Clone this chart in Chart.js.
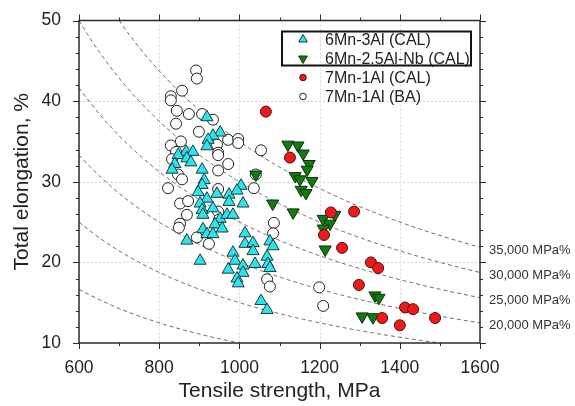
<!DOCTYPE html>
<html>
<head>
<meta charset="utf-8">
<script src="https://cdn.jsdelivr.net/npm/chart.js@4.4.1/dist/chart.umd.min.js"></script>
<style>
  html, body { margin: 0; padding: 0; background: #fff; }
</style>
</head>
<body>
<canvas id="chart" width="575" height="406"></canvas>
<script>
// axis ranges and tick values
const xMin = 600, xMax = 1600, yMin = 10, yMax = 50;
const xTicks = [600, 800, 1000, 1200, 1400, 1600];
const yTicks = [10, 20, 30, 40, 50];

// iso strength-ductility product lines (MPa%)
const isoLevels = [10000, 15000, 20000, 25000, 30000, 35000];
const isoLabelled = [35000, 30000, 25000, 20000];
const isoLabels = ['35,000 MPa%', '30,000 MPa%', '25,000 MPa%', '20,000 MPa%'];

// [tensile strength MPa, total elongation %]
const mn6Al3Cal = [
  [919, 38.0], [952, 36.1], [934, 35.7], [922, 35.2], [919, 34.4], [867, 33.7], [884, 33.7],
  [847, 33.3], [869, 32.9], [879, 32.4], [839, 32.2], [832, 31.5], [907, 31.5], [912, 30.2],
  [907, 29.6], [897, 28.7], [944, 28.5], [974, 28.4], [1004, 29.5], [994, 28.9], [919, 27.9],
  [902, 27.3], [907, 26.5], [909, 25.9], [934, 26.7], [952, 25.4], [939, 24.7], [957, 24.2],
  [909, 24.1], [919, 23.5], [934, 23.5], [869, 22.7], [969, 25.9], [984, 25.9], [1009, 27.3],
  [1014, 23.6], [1014, 22.3], [1034, 22.4], [1034, 21.4], [1039, 19.8], [984, 21.2], [989, 20.2],
  [1009, 19.6], [1009, 18.7], [972, 19.1], [994, 18.0], [997, 17.4], [902, 20.2], [1069, 20.7],
  [1076, 22.6], [1084, 22.0], [1071, 19.8], [1076, 19.3], [1054, 15.2], [1069, 14.1], [974, 27.5]
];
const mn6Al25NbCal = [
  [1121, 34.6], [1146, 34.5], [1159, 33.5], [1174, 32.2], [1169, 31.5], [1139, 30.7], [1151, 30.3],
  [1181, 30.1], [1154, 29.0], [1166, 28.6], [1041, 30.9], [1083, 27.3], [1134, 26.2], [1209, 25.4],
  [1238, 25.9], [1226, 24.8], [1209, 24.2], [1214, 21.6], [1338, 15.9], [1348, 15.6], [1306, 13.3],
  [1333, 13.2]
];
const mn7Al1Cal = [
  [1066, 38.7], [1126, 33.0], [1228, 26.2], [1286, 26.3], [1211, 23.4], [1256, 21.8], [1328, 20.0],
  [1346, 19.3], [1298, 17.2], [1413, 14.4], [1433, 14.2], [1488, 13.1], [1356, 13.1], [1400, 12.2]
];
const mn7Al1Ba = [
  [892, 43.8], [894, 42.8], [857, 41.3], [829, 40.6], [829, 40.1], [844, 38.8], [874, 38.4],
  [907, 38.4], [934, 37.7], [842, 37.2], [899, 36.2], [972, 35.2], [997, 35.3], [997, 34.8],
  [854, 35.0], [829, 34.5], [944, 34.6], [947, 33.6], [947, 33.3], [842, 33.7], [832, 32.8],
  [972, 32.2], [947, 31.4], [1054, 33.9], [1041, 30.9], [847, 30.9], [857, 30.3], [822, 29.2],
  [947, 29.1], [1036, 29.2], [852, 27.3], [872, 27.6], [869, 25.9], [852, 24.8], [849, 24.3],
  [894, 23.1], [924, 22.3], [947, 26.3], [949, 25.3], [1086, 24.9], [1084, 23.6], [1069, 17.9],
  [1076, 17.0], [1199, 16.9], [1209, 14.6]
];

const legendNames = ['6Mn-3Al (CAL)', '6Mn-2.5Al-Nb (CAL)', '7Mn-1Al (CAL)', '7Mn-1Al (BA)'];

const FONT = '"Liberation Sans", Arial, sans-serif';
const toXY = arr => arr.map(([x, y]) => ({ x, y }));

// x*y = const, sampled across the visible range
function isoCurve(c) {
  const pts = [];
  const x0 = Math.max(xMin, c / yMax), x1 = Math.min(xMax, c / yMin);
  for (let x = x0; x < x1; x += 5) pts.push({ x, y: c / x });
  pts.push({ x: x1, y: c / x1 });
  return pts;
}

const styles = [
  { pointStyle: 'triangle', rotation: 0, bg: '#2ee4ea', border: '#1d3b3c' },
  { pointStyle: 'triangle', rotation: 180, bg: '#137a13', border: '#0b330b' },
  { pointStyle: 'circle', rotation: 0, bg: '#ee1a1a', border: '#4a1010' },
  { pointStyle: 'circle', rotation: 0, bg: '#ffffff', border: '#222222' }
];

function scatterSet(label, data, st, order, radius) {
  return {
    type: 'scatter',
    label,
    data: toXY(data),
    order,
    pointStyle: st.pointStyle,
    pointRotation: st.rotation,
    pointRadius: radius,
    pointHoverRadius: radius,
    pointBackgroundColor: st.bg,
    pointBorderColor: st.border,
    pointBorderWidth: 1
  };
}

const curveSets = isoLevels.map(c => ({
  type: 'line',
  label: c + ' MPa%',
  data: isoCurve(c),
  order: 10,
  borderColor: '#6a6a6a',
  borderWidth: 1,
  borderDash: [4, 3],
  pointRadius: 0,
  fill: false,
  tension: 0
}));

// grid, frame, minor ticks, curve labels and legend
const decor = {
  id: 'decor',
  beforeDatasetsDraw(chart) {
    const { ctx, chartArea: a, scales: { x, y } } = chart;
    ctx.save();
    ctx.strokeStyle = '#d6d6d6';
    ctx.lineWidth = 1;
    ctx.setLineDash([2, 2]);
    ctx.beginPath();
    xTicks.slice(1, -1).forEach(v => {
      const px = Math.round(x.getPixelForValue(v)) + 0.5;
      ctx.moveTo(px, a.top); ctx.lineTo(px, a.bottom);
    });
    yTicks.slice(1, -1).forEach(v => {
      const py = Math.round(y.getPixelForValue(v)) + 0.5;
      ctx.moveTo(a.left, py); ctx.lineTo(a.right, py);
    });
    ctx.stroke();
    ctx.restore();
  },
  afterDraw(chart) {
    const { ctx, chartArea: a, scales: { x, y } } = chart;
    ctx.save();

    // frame
    ctx.strokeStyle = '#2a2a2a';
    ctx.lineWidth = 1.5;
    ctx.strokeRect(a.left, a.top, a.right - a.left, a.bottom - a.top);

    // outward ticks on all four sides
    ctx.lineWidth = 1;
    ctx.beginPath();
    for (let v = xMin; v <= xMax; v += 100) {
      const px = Math.round(x.getPixelForValue(v)) + 0.5;
      const len = v % 200 === 0 ? 6 : 3;
      ctx.moveTo(px, a.bottom); ctx.lineTo(px, a.bottom + len);
      ctx.moveTo(px, a.top); ctx.lineTo(px, a.top - len);
    }
    for (let v = yMin; v <= yMax; v += 2) {
      const py = Math.round(y.getPixelForValue(v)) + 0.5;
      const len = v % 10 === 0 ? 6 : 3;
      ctx.moveTo(a.left, py); ctx.lineTo(a.left - len, py);
      ctx.moveTo(a.right, py); ctx.lineTo(a.right + len, py);
    }
    ctx.stroke();

    // iso-line labels at the right edge
    ctx.fillStyle = '#333';
    ctx.font = '13px ' + FONT;
    ctx.textAlign = 'left';
    ctx.textBaseline = 'middle';
    isoLabelled.forEach((c, i) => {
      const py = y.getPixelForValue(c / xMax);
      ctx.fillText(isoLabels[i], a.right + 9, py + 3);
    });

    // legend
    const lx = a.left + 224, tx = a.left + 246;
    ctx.font = '16px ' + FONT;
    legendNames.forEach((name, i) => {
      const ly = a.top + 19 + i * 19;
      const st = styles[i];
      ctx.fillStyle = st.bg;
      ctx.strokeStyle = st.border;
      ctx.lineWidth = 1;
      Chart.helpers.drawPoint(ctx, {
        pointStyle: st.pointStyle,
        rotation: st.rotation,
        radius: st.pointStyle === 'circle' ? 3.3 : 5,
        borderWidth: 1
      }, lx, ly);
      ctx.fillStyle = '#222';
      ctx.fillText(name, tx, ly + 1);
    });
    ctx.strokeStyle = '#111';
    ctx.lineWidth = 2;
    ctx.strokeRect(a.left + 203, a.top + 11, 189, 34);

    ctx.restore();
  }
};

new Chart(document.getElementById('chart'), {
  data: {
    datasets: [
      scatterSet(legendNames[0], mn6Al3Cal, styles[0], 2, 7),
      scatterSet(legendNames[1], mn6Al25NbCal, styles[1], 1, 7),
      scatterSet(legendNames[2], mn7Al1Cal, styles[2], 0, 5.5),
      scatterSet(legendNames[3], mn7Al1Ba, styles[3], 3, 5.5),
      ...curveSets
    ]
  },
  options: {
    responsive: false,
    animation: false,
    layout: { padding: { top: 16, right: 95, bottom: 0, left: 0 } },
    plugins: {
      legend: { display: false },
      tooltip: { enabled: false }
    },
    scales: {
      x: {
        type: 'linear',
        min: xMin,
        max: xMax,
        afterBuildTicks: s => { s.ticks = xTicks.map(v => ({ value: v })); },
        afterFit: s => { s.height = 63; },
        grid: { display: false },
        border: { display: false },
        ticks: {
          font: { size: 17.5, family: FONT },
          color: '#222',
          padding: 7,
          maxRotation: 0,
          autoSkip: false,
          callback: v => String(v)
        },
        title: {
          display: true,
          text: 'Tensile strength, MPa',
          font: { size: 21, family: FONT },
          color: '#222',
          padding: { top: 0, bottom: 2 }
        }
      },
      y: {
        type: 'linear',
        min: yMin,
        max: yMax,
        afterBuildTicks: s => { s.ticks = yTicks.map(v => ({ value: v })); },
        afterFit: s => { s.width = 79; },
        grid: { display: false },
        border: { display: false },
        ticks: {
          font: { size: 17.5, family: FONT },
          color: '#222',
          padding: 10,
          callback: v => String(v)
        },
        title: {
          display: true,
          text: 'Total elongation, %',
          font: { size: 21, family: FONT },
          color: '#222',
          padding: { top: 10, bottom: 0 }
        }
      }
    }
  },
  plugins: [decor]
});
</script>
</body>
</html>
